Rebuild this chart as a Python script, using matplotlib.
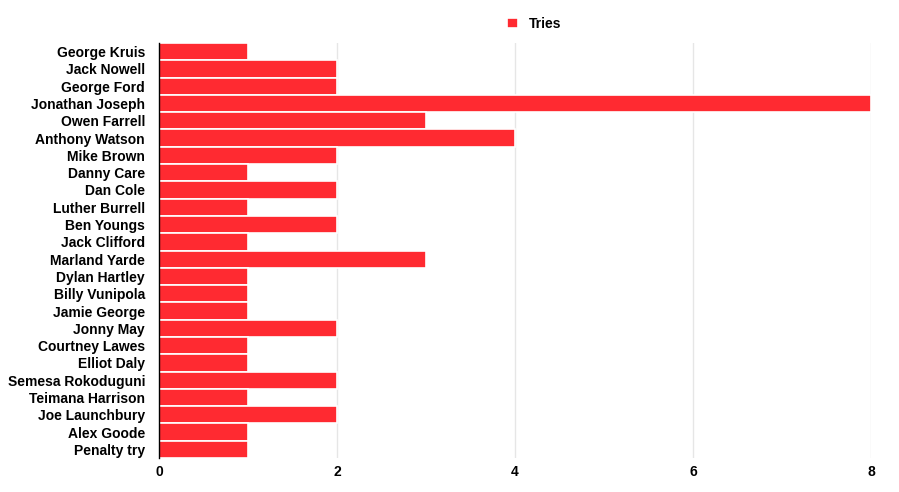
import matplotlib
matplotlib.use("Agg")
import matplotlib.pyplot as plt
import numpy as np

players = ["George Kruis", "Jack Nowell", "George Ford", "Jonathan Joseph",
           "Owen Farrell", "Anthony Watson", "Mike Brown", "Danny Care",
           "Dan Cole", "Luther Burrell", "Ben Youngs", "Jack Clifford",
           "Marland Yarde", "Dylan Hartley", "Billy Vunipola", "Jamie George",
           "Jonny May", "Courtney Lawes", "Elliot Daly", "Semesa Rokoduguni",
           "Teimana Harrison", "Joe Launchbury", "Alex Goode", "Penalty try"]
tries = [1, 2, 2, 8, 3, 4, 2, 1, 2, 1, 2, 1, 3, 1, 1, 1, 2, 1, 1, 2, 1, 2, 1, 1]
xticks = [0, 2, 4, 6, 8]

plt.rcParams['font.family'] = ['Liberation Sans', 'DejaVu Sans']

fig = plt.figure(figsize=(8.99, 4.92), dpi=100)
ax = fig.add_axes([159 / 899, 1 - 458 / 492, (871 - 159) / 899, (458 - 43) / 492])

y = np.arange(len(players))
ax.barh(y, tries, height=1.0, color="#ff2a31", edgecolor="white", linewidth=1.2,
        label="Tries", zorder=3)
ax.set_ylim(len(players) - 0.5, -0.5)
ax.set_xlim(0, 8)
ax.set_yticks(y)
ax.set_yticklabels(players, fontsize=10, fontweight="bold")
ax.set_xticks(xticks)
ax.set_xticklabels([str(t) for t in xticks], fontsize=10, fontweight="bold")
ax.tick_params(axis="y", length=0, pad=10)
ax.tick_params(axis="x", length=0, pad=5)
ax.grid(axis="x", color="#e6e6e6", linewidth=1, zorder=0)
for s in ["top", "right", "bottom"]:
    ax.spines[s].set_visible(False)
ax.spines["left"].set_color("black")
ax.spines["left"].set_linewidth(1)
ax.spines["left"].set_zorder(4)

fig.legend(loc="center", bbox_to_anchor=(0.594, 1 - 24 / 492), frameon=False,
           handlelength=0.8, handleheight=0.8, handletextpad=0.8,
           prop={"weight": "bold", "size": 10})

fig.savefig("out.png", dpi=100)
